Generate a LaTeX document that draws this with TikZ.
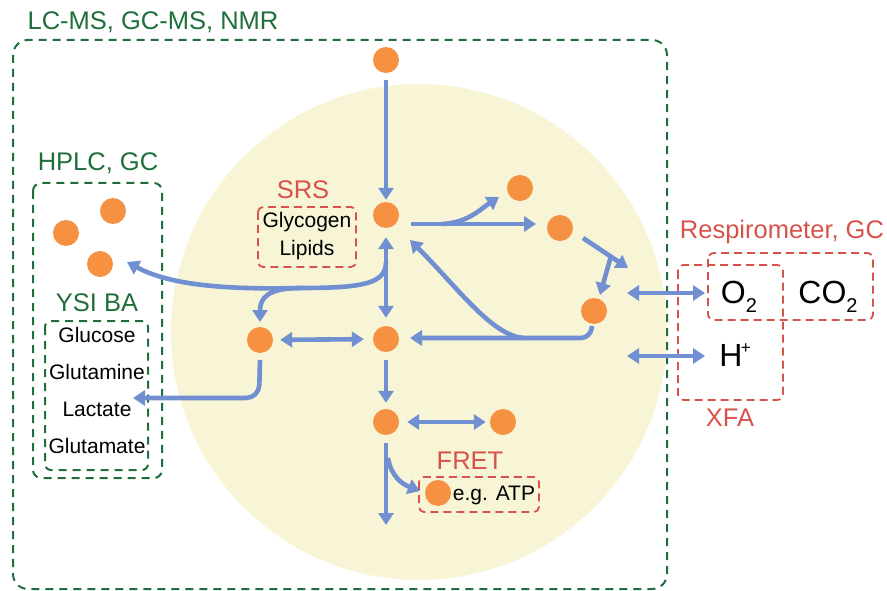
\documentclass[tikz,border=0pt]{standalone}
\usepackage{fontspec}
\setmainfont{Liberation Sans}
\usetikzlibrary{arrows.meta}
\definecolor{cellfill}{HTML}{F8F4D6}
\definecolor{mgreen}{HTML}{1F6E3C}
\definecolor{mred}{HTML}{D6524A}
\definecolor{morange}{HTML}{F59141}
\definecolor{mblue}{HTML}{7090D2}
\tikzset{
  metab/.style={circle, fill=morange, minimum size=26pt, inner sep=0pt},
  tip/.tip={Triangle[length=12pt,width=15pt]},
  arr/.style={draw=mblue, line width=4.6pt, -tip},
  darr/.style={draw=mblue, line width=4.6pt, tip-tip},
  line/.style={draw=mblue, line width=4.6pt},
  gbox/.style={draw=mgreen, line width=2pt, dash pattern=on 8pt off 6pt},
  rbox/.style={draw=mred, line width=1.8pt, dash pattern=on 8pt off 5pt},
  glab/.style={text=mgreen, font=\fontsize{25.5}{30}\selectfont},
  rlab/.style={text=mred, font=\fontsize{25.5}{30}\selectfont},
  mtext/.style={font=\fontsize{21}{25}\selectfont},
  gas/.style={font=\fontsize{32}{38}\selectfont},
}
\newcommand{\subtwo}{\raisebox{-0.28em}{\fontsize{20}{20}\selectfont 2}}
\newcommand{\supplus}{\kern-0.05em\raisebox{0.42em}{\fontsize{17}{17}\selectfont +}}
\begin{document}
\begin{tikzpicture}[x=1pt,y=-1pt]
\useasboundingbox (0,0) rectangle (887,591);

% cell
\fill[cellfill] (419,332) circle (248pt);

% measurement boxes
\draw[gbox, rounded corners=15pt] (13,40) rectangle (667,589);
\draw[gbox, rounded corners=8pt] (33,183) rectangle (162,478);
\draw[gbox, rounded corners=6pt] (45,321) rectangle (148,470);
\draw[rbox, rounded corners=5pt] (258,207) rectangle (356,267);
\draw[rbox, rounded corners=5pt] (419,477) rectangle (539,512);
\draw[rbox, rounded corners=6pt] (708,253) rectangle (873,320);
\draw[rbox, rounded corners=6pt] (678,265) rectangle (783,400);

% labels
\node[glab] (lcms) at (153,22) {LC-MS, GC-MS, NMR};
\node[glab] (hplc) at (98,163) {HPLC, GC};
\node[glab] (ysi) at (97,303) {YSI BA};
\node[mtext] (glc) at (97,335) {Glucose};
\node[mtext] (gln) at (97,372) {Glutamine};
\node[mtext] (lac) at (97,409) {Lactate};
\node[mtext] (glu) at (97,446) {Glutamate};
\node[rlab] (srs) at (303,190) {SRS};
\node[mtext] (glyc) at (307,222) {Glycogen};
\node[mtext] (lip) at (307,250) {Lipids};
\node[rlab] (fret) at (470,461) {FRET};
\node[mtext] (atp) at (494,495) {e.g. ATP};
\node[rlab] (resp) at (782,232) {Respirometer, GC};
\node[rlab] (xfa) at (730,418) {XFA};
\node[gas] (o2) at (739,297) {O\subtwo};
\node[gas] (co2) at (828,297) {CO\subtwo};
\node[gas] (hp) at (735,355) {H\supplus};

% metabolites
\node[metab] (d0) at (386,60) {};
\node[metab] (d1) at (386,215) {};
\node[metab] (d2) at (520,188) {};
\node[metab] (d3) at (560,228) {};
\node[metab] (d4) at (594,311) {};
\node[metab] (d5) at (386,339) {};
\node[metab] (d6) at (260,340) {};
\node[metab] (d7) at (386,422) {};
\node[metab] (d8) at (503,422) {};
\node[metab] (da) at (438,493) {};
\node[metab] (h1) at (113,211) {};
\node[metab] (h2) at (66,233) {};
\node[metab] (h3) at (100,264) {};

% connector end points
\coordinate (j1) at (442,224);
\coordinate (e1) at (411,224);
\coordinate (e2) at (536,224);
\coordinate (e3) at (499,197);
\coordinate (t0) at (583,238);
\coordinate (t1) at (628,268);
\coordinate (t2) at (611,256);
\coordinate (t3) at (600,295);
\coordinate (b0) at (592,326);
\coordinate (b1) at (410,338);
\coordinate (b2) at (524,338);
\coordinate (b3) at (410,240);
\coordinate (s0) at (386,262);
\coordinate (s1) at (300,288);
\coordinate (s2) at (127,262);
\coordinate (s3) at (260,322);
\coordinate (l0) at (260,360);
\coordinate (l1) at (133,398);
\coordinate (v0) at (386,443);
\coordinate (v1) at (386,525);
\coordinate (v2) at (388,458);
\coordinate (v3) at (420,491);
\coordinate (x1) at (627,293);
\coordinate (x2) at (705,293);
\coordinate (x3) at (627,356);
\coordinate (x4) at (705,356);

% pathways
\draw[arr, shorten <=7pt, shorten >=2pt] (d0) -- (d1);
\draw[arr] (e1) -- (e2);
\draw[arr] (j1) .. controls (468,223) and (482,208) .. (e3);
\draw[arr] (t0) -- (t1);
\draw[arr] (t2) -- (t3);
\draw[arr, rounded corners=9pt] (b0) -- (590,338) -- (b1);
\draw[arr] (b2) .. controls (492,336) and (458,288) .. (b3);
\draw[darr, shorten <=9pt, shorten >=8pt] (d1) -- (d5);
\draw[line] (s0) .. controls (386,284) and (362,288) .. (s1);
\draw[arr] (s1) .. controls (220,290) and (168,284) .. (s2);
\draw[arr] (s1) .. controls (268,288) and (260,298) .. (s3);
\draw[darr, shorten <=7pt, shorten >=9pt] (d6) -- (d5);
\draw[arr, rounded corners=13pt] (l0) -- (259,398) -- (l1);
\draw[arr, shorten <=8pt, shorten >=6pt] (d5) -- (d7);
\draw[darr, shorten <=8pt, shorten >=4pt] (d7) -- (d8);
\draw[arr] (v0) -- (v1);
\draw[arr] (v2) .. controls (391,476) and (402,484) .. (v3);
\draw[darr] (x1) -- (x2);
\draw[darr] (x3) -- (x4);
\end{tikzpicture}
\end{document}
